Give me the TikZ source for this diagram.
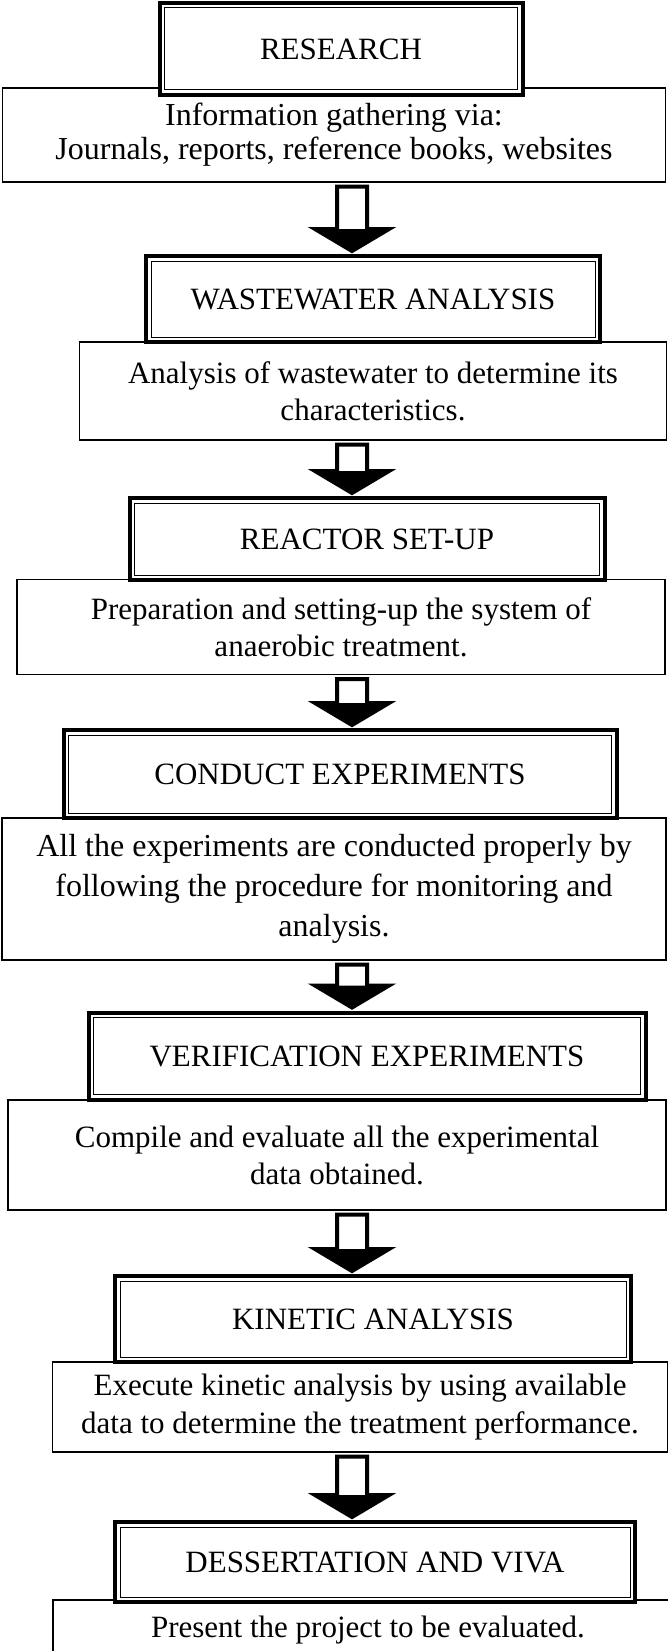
\documentclass[tikz,border=0pt]{standalone}
\usepackage{fontspec}
\setmainfont{Liberation Serif}
\usetikzlibrary{calc}
\begin{document}
\begin{tikzpicture}[x=1pt,y=-1pt,
	head/.style={draw, line width=4pt, fill=white, inner sep=0pt, font=\fontsize{31}{36}\selectfont},
	desc/.style={draw, line width=1.2pt, inner sep=0pt, align=center, font=\fontsize{31}{37}\selectfont},
	blockarrow/.style={draw, line width=4pt, fill=white, line join=miter}]
	\clip (0,0) rectangle (668,1651);
	\coordinate (axis) at (352,0);
	% description boxes
	\node[desc, minimum width=663, minimum height=94, font=\fontsize{32}{34}\selectfont] (d1) at (334,135) {Information gathering via:\\Journals, reports, reference books, websites};
	\node[desc, minimum width=587, minimum height=98] (d2) at (373,391) {Analysis of wastewater to determine its\\characteristics.};
	\node[desc, minimum width=648, minimum height=95] (d3) at (341,627) {Preparation and setting-up the system of\\anaerobic treatment.};
	\node[desc, minimum width=664, minimum height=142, font=\fontsize{32}{40}\selectfont] (d4) at (334,889) {All the experiments are conducted properly by\\following the procedure for monitoring and\\analysis.};
	\node[desc, minimum width=658, minimum height=110] (d5) at (337,1155) {Compile and evaluate all the experimental\\data obtained.};
	\node[desc, minimum width=615, minimum height=90, font=\fontsize{31}{38}\selectfont] (d6) at (360,1407) {Execute kinetic analysis by using available\\data to determine the treatment performance.};
	\draw[line width=1.2pt] (700,1600) -- (53,1600) -- (53,1700);
	\node[desc, draw=none] (d7) at (368,1630) {Present the project to be evaluated.};
	% title boxes
	\node[head, minimum width=363, minimum height=92] (h1) at (341,49) {RESEARCH};
	\node[head, minimum width=454, minimum height=86] (h2) at (373,299) {WASTEWATER ANALYSIS};
	\node[head, minimum width=475, minimum height=82] (h3) at (367,539) {REACTOR SET-UP};
	\node[head, minimum width=553, minimum height=88] (h4) at (340,774) {CONDUCT EXPERIMENTS};
	\node[head, minimum width=557, minimum height=87] (h5) at (367,1056) {VERIFICATION EXPERIMENTS};
	\node[head, minimum width=516, minimum height=86] (h6) at (373,1319) {KINETIC ANALYSIS};
	\node[head, minimum width=520, minimum height=80] (h7) at (375,1562) {DESSERTATION AND VIVA};
	\foreach \n in {h1,h2,h3,h4,h5,h6,h7}
		\draw[line width=1pt] ([xshift=7pt,yshift=-7pt]\n.north west) rectangle ([xshift=-7pt,yshift=7pt]\n.south east);
	% arrows between the steps
	\foreach \a/\b in {d1/h2,d2/h3,d3/h4,d4/h5,d5/h6,d6/h7} {
		\draw[blockarrow] ($(axis |- \a.south)+(-15,4)$) -- ($(axis |- \b.north)+(-15,-25)$) -- ($(axis |- \b.north)+(-37,-25)$) -- ($(axis |- \b.north)+(0,-3)$) -- ($(axis |- \b.north)+(37,-25)$) -- ($(axis |- \b.north)+(15,-25)$) -- ($(axis |- \a.south)+(15,4)$) -- cycle;
		\fill ($(axis |- \b.north)+(-37,-25)$) -- ($(axis |- \b.north)+(0,-3)$) -- ($(axis |- \b.north)+(37,-25)$) -- cycle;
	}
\end{tikzpicture}
\end{document}
